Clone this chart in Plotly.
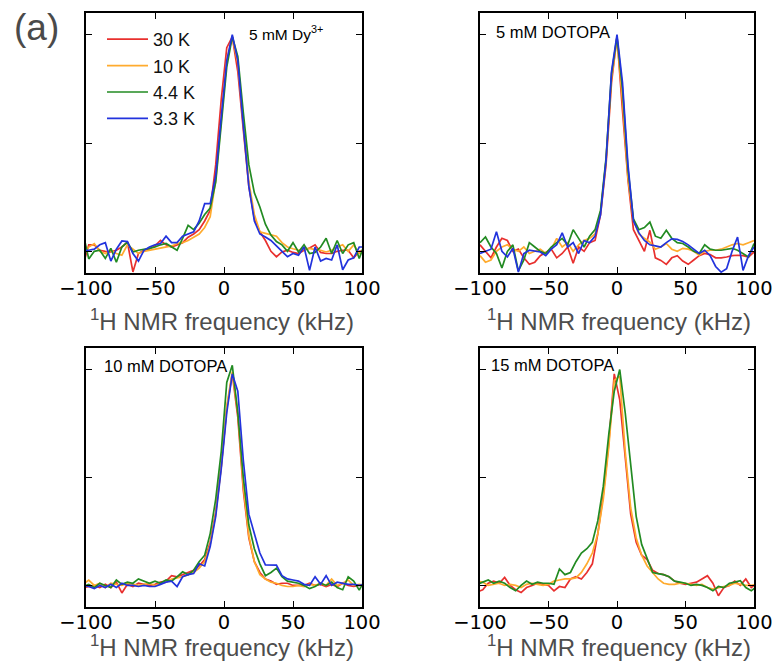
import plotly.graph_objects as go

# ---------------- data ----------------
FREQ_A = [-102, -98, -94, -90, -86, -82, -78, -74, -70, -66, -62, -58, -54,
          -50, -46, -42, -38, -34, -30, -26, -22, -18, -14, -10, -6, -2,
          2, 6, 10, 14, 18, 22, 26, 30, 34, 38, 42, 46, 50,
          54, 58, 62, 66, 70, 74, 78, 82, 86, 90, 94, 98, 102]
FREQ_B = [-100, -96, -92, -88, -84, -80, -76, -72, -68, -64, -60, -56, -52,
          -48, -44, -40, -36, -32, -28, -24, -20, -16, -12, -8, -4, 0,
          4, 8, 12, 16, 20, 24, 28, 32, 36, 40, 44, 48, 52,
          56, 60, 64, 68, 72, 76, 80, 84, 88, 92, 96, 100]

TEMPS = ["30 K", "10 K", "4.4 K", "3.3 K"]
COLORS = ["#e8302e", "#ffab2e", "#228b22", "#2233dd"]

# 5 mM Dy3+
DY5_30K = [-0.06, 0.03, 0.03, 0.005, 0.0, -0.002, 0.005, 0.02, 0.043, -0.095, -0.01, 0.005, 0.012,
           0.025, 0.05, 0.03, 0.02, 0.03, 0.04, 0.065, 0.08, 0.10, 0.14, 0.19, 0.40, 0.70,
           0.94, 0.99, 0.83, 0.56, 0.30, 0.15, 0.09, 0.05, 0.0, -0.025, -0.003, 0.005, -0.005,
           -0.01, 0.005, 0.015, 0.03, -0.005, -0.01, -0.01, 0.0, 0.005, 0.005, -0.03, 0.0, 0.005]
DY5_10K = [-0.02, 0.02, 0.036, 0.0, -0.01, 0.005, -0.01, -0.018, 0.03, 0.01, -0.01, 0.0, 0.005,
           0.012, 0.014, 0.02, 0.025, 0.036, 0.04, 0.05, 0.065, 0.08, 0.11, 0.16, 0.33, 0.62,
           0.88, 0.99, 0.87, 0.59, 0.32, 0.17, 0.09, 0.083, 0.075, 0.07, 0.04, 0.02, 0.012,
           0.005, 0.01, 0.014, 0.008, 0.005, -0.003, 0.005, 0.02, 0.03, 0.0, 0.03, -0.01, 0.0]
DY5_4K4 = [0.08, -0.035, 0.0, 0.005, -0.033, 0.014, -0.05, 0.02, 0.043, -0.003, 0.005, 0.008, 0.014,
           0.02, 0.03, 0.036, 0.02, 0.005, 0.06, 0.12, 0.10, 0.13, 0.17, 0.20, 0.32, 0.58,
           0.85, 0.99, 0.90, 0.64, 0.40, 0.27, 0.205, 0.125, 0.075, 0.045, 0.03, 0.0, 0.04,
           -0.003, 0.03, -0.01, -0.005, 0.02, 0.06, -0.01, 0.05, -0.01, 0.03, 0.04, -0.033, 0.036]
DY5_3K3 = [0.005, 0.005, 0.01, 0.03, 0.04, -0.045, 0.01, 0.048, 0.045, -0.01, -0.045, 0.005, 0.02,
           0.03, 0.036, 0.07, 0.04, 0.04, 0.07, 0.08, 0.09, 0.14, 0.22, 0.22, 0.35, 0.62,
           0.88, 1.0, 0.88, 0.58, 0.30, 0.14, 0.08, 0.066, 0.05, 0.025, 0.0, -0.025, -0.01,
           -0.018, 0.02, -0.088, 0.02, -0.045, -0.033, -0.04, 0.03, -0.085, -0.04, -0.03, 0.02, 0.02]

# 5 mM DOTOPA
DO5_30K = [0.03, 0.0, -0.03, 0.02, 0.06, 0.05, 0.0, 0.01, -0.03, -0.06, -0.05, -0.02, -0.005,
           0.01, -0.03, -0.01, 0.02, -0.055, 0.02, 0.0, 0.04, 0.05, 0.17, 0.40, 0.78, 0.99,
           0.65, 0.33, 0.10, 0.05, 0.0, 0.097, -0.03, -0.042, -0.06, -0.03, -0.02, -0.045, -0.06,
           -0.04, -0.02, -0.01, -0.015, -0.03, -0.03, -0.026, -0.02, -0.018, -0.02, -0.026, -0.003]
DO5_10K = [-0.02, -0.05, -0.04, 0.0, 0.02, 0.03, 0.01, 0.0, 0.02, -0.01, 0.0, 0.01, -0.01,
           0.01, 0.06, 0.02, 0.04, 0.0, 0.03, 0.05, 0.06, 0.08, 0.18, 0.42, 0.80, 0.98,
           0.70, 0.34, 0.143, 0.08, 0.06, 0.043, 0.01, 0.02, 0.036, 0.01, 0.0, 0.014, 0.01,
           0.0, -0.018, 0.0, 0.005, 0.005, 0.01, 0.02, 0.03, 0.036, 0.03, 0.04, 0.05]
DO5_4K4 = [0.04, 0.066, 0.02, -0.01, -0.077, 0.0, 0.03, -0.09, -0.04, 0.04, 0.02, 0.0, -0.01,
           0.02, 0.04, 0.06, 0.03, 0.10, 0.06, 0.02, 0.07, 0.10, 0.19, 0.43, 0.82, 0.99,
           0.75, 0.38, 0.15, 0.10, 0.11, 0.135, 0.07, 0.06, 0.097, 0.06, 0.04, 0.036, 0.02,
           0.0, -0.01, 0.03, 0.01, 0.005, 0.005, 0.01, 0.014, 0.005, -0.01, -0.026, 0.036]
DO5_3K3 = [-0.01, 0.0, 0.01, 0.09, 0.0, -0.026, 0.014, -0.096, -0.01, 0.005, 0.0, -0.003, -0.02,
           0.01, 0.03, 0.085, 0.02, 0.04, -0.01, 0.05, 0.04, 0.07, 0.17, 0.42, 0.83, 1.0,
           0.78, 0.40, 0.14, 0.085, 0.05, 0.03, 0.025, 0.02, 0.04, 0.058, 0.055, 0.045, 0.03,
           0.01, -0.01, 0.005, -0.02, -0.07, -0.096, -0.08, 0.0, 0.066, -0.088, -0.02, 0.02]

# 10 mM DOTOPA
DO10_30K = [-0.01, -0.005, 0.0, -0.01, 0.005, -0.01, 0.015, -0.035, 0.005, -0.005, 0.01, 0.005, 0.0,
            0.005, 0.015, 0.02, 0.045, 0.04, 0.05, 0.06, 0.07, 0.09, 0.12, 0.20, 0.34, 0.55,
            0.82, 0.98, 0.78, 0.44, 0.22, 0.11, 0.06, 0.03, 0.02, 0.005, 0.01, 0.01, 0.0,
            0.0, 0.0, 0.01, 0.0, 0.005, -0.005, 0.005, -0.005, 0.01, 0.0, -0.005, 0.0, 0.005]
DO10_10K = [0.005, 0.025, 0.0, 0.01, -0.01, 0.01, 0.005, 0.0, 0.01, 0.005, 0.0, 0.005, 0.01,
            0.0, 0.01, 0.015, 0.03, 0.035, 0.04, 0.05, 0.06, 0.08, 0.11, 0.19, 0.33, 0.55,
            0.83, 0.99, 0.80, 0.46, 0.23, 0.11, 0.05, 0.03, 0.015, 0.01, 0.0, -0.005, -0.005,
            0.0, -0.005, 0.005, 0.0, 0.01, 0.0, 0.03, 0.0, 0.01, 0.025, 0.0, 0.005, 0.0]
DO10_4K4 = [-0.005, 0.005, -0.01, 0.01, 0.0, -0.01, 0.025, 0.005, 0.015, 0.01, 0.03, 0.02, 0.01,
            0.02, 0.01, 0.025, 0.02, 0.04, 0.063, 0.05, 0.07, 0.11, 0.14, 0.24, 0.40, 0.62,
            0.94, 1.02, 0.80, 0.50, 0.28, 0.17, 0.10, 0.045, 0.06, 0.08, 0.04, 0.02, 0.015,
            0.01, 0.0, -0.015, -0.005, 0.01, 0.0, 0.015, -0.01, -0.02, 0.04, 0.02, -0.022, 0.025]
DO10_3K3 = [0.0, -0.005, -0.015, 0.0, -0.01, 0.005, -0.01, 0.01, 0.0, 0.0, -0.005, 0.0, -0.005,
            -0.005, 0.005, 0.015, 0.02, -0.005, 0.04, 0.05, 0.055, 0.10, 0.09, 0.18, 0.32, 0.54,
            0.80, 0.98, 0.90, 0.58, 0.33, 0.24, 0.15, 0.095, 0.094, 0.094, 0.045, 0.03, 0.025,
            0.02, 0.005, 0.0, 0.04, 0.005, 0.045, 0.0, 0.015, 0.01, 0.005, 0.005, 0.0, 0.005]

# 15 mM DOTOPA (no 3.3 K trace)
DO15_30K = [-0.03, -0.02, 0.01, 0.02, 0.01, 0.037, 0.0, -0.02, -0.033, -0.01, 0.0, 0.01, 0.005,
            0.0, -0.025, -0.005, -0.01, 0.03, 0.04, 0.03, 0.06, 0.10, 0.24, 0.42, 0.66, 0.98,
            0.86, 0.58, 0.33, 0.20, 0.14, 0.12, 0.07, 0.055, 0.05, 0.04, 0.02, 0.01, 0.005,
            0.01, 0.015, 0.03, 0.045, 0.01, -0.048, -0.01, 0.0, 0.02, 0.0, 0.03, -0.01, 0.01]
DO15_10K = [0.02, 0.015, 0.0, 0.005, 0.01, 0.0, 0.005, 0.0, -0.01, 0.005, 0.01, 0.005, 0.0,
            0.005, 0.02, 0.025, 0.03, 0.03, 0.035, 0.06, 0.10, 0.15, 0.24, 0.40, 0.64, 0.95,
            0.97, 0.62, 0.36, 0.22, 0.14, 0.09, 0.06, 0.03, 0.01, 0.005, 0.005, 0.01, 0.01,
            0.005, 0.0, 0.005, -0.01, -0.017, -0.01, -0.005, 0.0, 0.01, 0.005, 0.0, 0.0, 0.005]
DO15_4K4 = [0.005, 0.015, 0.025, 0.01, 0.02, 0.01, -0.01, -0.025, 0.0, 0.02, 0.005, 0.015, 0.01,
            0.01, 0.005, 0.076, 0.05, 0.06, 0.11, 0.15, 0.17, 0.20, 0.30, 0.46, 0.70, 0.90,
            1.0, 0.80, 0.55, 0.32, 0.19, 0.12, 0.06, 0.055, 0.05, 0.04, 0.02, 0.015, 0.01,
            0.0, 0.005, 0.0, -0.01, -0.025, -0.005, -0.01, 0.01, 0.015, 0.022, -0.01, -0.025, -0.005]

PANEL_LABELS = ["5 mM Dy<sup>3+</sup>", "5 mM DOTOPA", "10 mM DOTOPA", "15 mM DOTOPA"]
PANEL_FREQ = [FREQ_A, FREQ_B, FREQ_A, FREQ_A]
PANEL_SERIES = [
    [DY5_30K, DY5_10K, DY5_4K4, DY5_3K3],
    [DO5_30K, DO5_10K, DO5_4K4, DO5_3K3],
    [DO10_30K, DO10_10K, DO10_4K4, DO10_3K3],
    [DO15_30K, DO15_10K, DO15_4K4],
]
XTICKS = [-100, -50, 0, 50, 100]
XTICK_TEXT = ["\u2212100", "\u221250", "0", "50", "100"]
XTITLE = "<sup>1</sup>H NMR frequency (kHz)"

# ---------------- layout geometry (pixels) ----------------
W, H = 773, 662
# (left, right, top, bottom) of each panel frame
FRAMES = [(86, 362, 13, 273), (480, 754, 13, 273), (86, 362, 348, 607), (480, 754, 348, 607)]
LABEL_POS = [(247, 33), (494, 32), (102, 366), (489, 365)]
LABEL_SIZE = [15.5, 16.5, 16.5, 16.5]
TITLE_POS = [(222, 320), (619, 320), (222, 646), (619, 646)]

fig = go.Figure()
for p in range(4):
    sfx = "" if p == 0 else str(p + 1)
    for k, ys in enumerate(PANEL_SERIES[p]):
        fig.add_trace(go.Scatter(
            x=PANEL_FREQ[p], y=ys, mode="lines", name=TEMPS[k],
            line=dict(color=COLORS[k], width=1.7),
            xaxis="x" + sfx, yaxis="y" + sfx,
            showlegend=(p == 0), legendrank=k + 1,
        ))

layout = dict(
    width=W, height=H, autosize=False,
    margin=dict(l=0, r=0, t=0, b=0, pad=0, autoexpand=False),
    paper_bgcolor="white", plot_bgcolor="white",
    font=dict(family="Liberation Sans, Arial, sans-serif", color="black"),
    legend=dict(x=102 / W, y=1 - 21 / H, xanchor="left", yanchor="top",
                bgcolor="rgba(0,0,0,0)", borderwidth=0,
                font=dict(size=18, family="Liberation Sans, Arial, sans-serif", color="#111"),
                tracegroupgap=0, itemwidth=41, traceorder="normal"),
    annotations=[],
)
for p, (l, r, t, b) in enumerate(FRAMES):
    sfx = "" if p == 0 else str(p + 1)
    layout["xaxis" + sfx] = dict(
        domain=[l / W, r / W], anchor="y" + sfx, range=[-100, 100], automargin=False,
        tickvals=XTICKS, ticktext=XTICK_TEXT, ticks="inside", ticklen=6, tickwidth=1,
        tickcolor="black", showline=True, linecolor="black", linewidth=1.5, mirror="ticks",
        showgrid=False, zeroline=False, ticklabeloverflow="allow", ticklabelstandoff=-3,
        tickfont=dict(family="DejaVu Sans", size=19.5, color="black"),
    )
    layout["yaxis" + sfx] = dict(
        domain=[1 - b / H, 1 - t / H], anchor="x" + sfx, range=[-0.1, 1.1], automargin=False,
        tickvals=[0, 0.5, 1.0], showticklabels=False, ticks="inside", ticklen=6, tickwidth=1,
        tickcolor="black", showline=True, linecolor="black", linewidth=1.5, mirror="ticks",
        showgrid=False, zeroline=False,
    )
    lx, ly = LABEL_POS[p]
    layout["annotations"].append(dict(
        text=PANEL_LABELS[p], x=lx / W, y=1 - ly / H, xref="paper", yref="paper",
        xanchor="left", yanchor="middle", showarrow=False,
        font=dict(size=LABEL_SIZE[p], family="Liberation Sans, Arial, sans-serif", color="black")))
    tx, ty = TITLE_POS[p]
    layout["annotations"].append(dict(
        text=XTITLE, x=tx / W, y=1 - ty / H, xref="paper", yref="paper",
        xanchor="center", yanchor="middle", showarrow=False,
        font=dict(size=24, family="Liberation Sans, Arial, sans-serif", color="#4d4d4d")))

layout["annotations"].append(dict(
    text="(a)", x=12 / W, y=1 - 28 / H, xref="paper", yref="paper",
    xanchor="left", yanchor="middle", showarrow=False,
    font=dict(size=37, family="Liberation Sans, Arial, sans-serif", color="#4a4a4a")))

fig.update_layout(**layout)
fig.write_html("out.html")
